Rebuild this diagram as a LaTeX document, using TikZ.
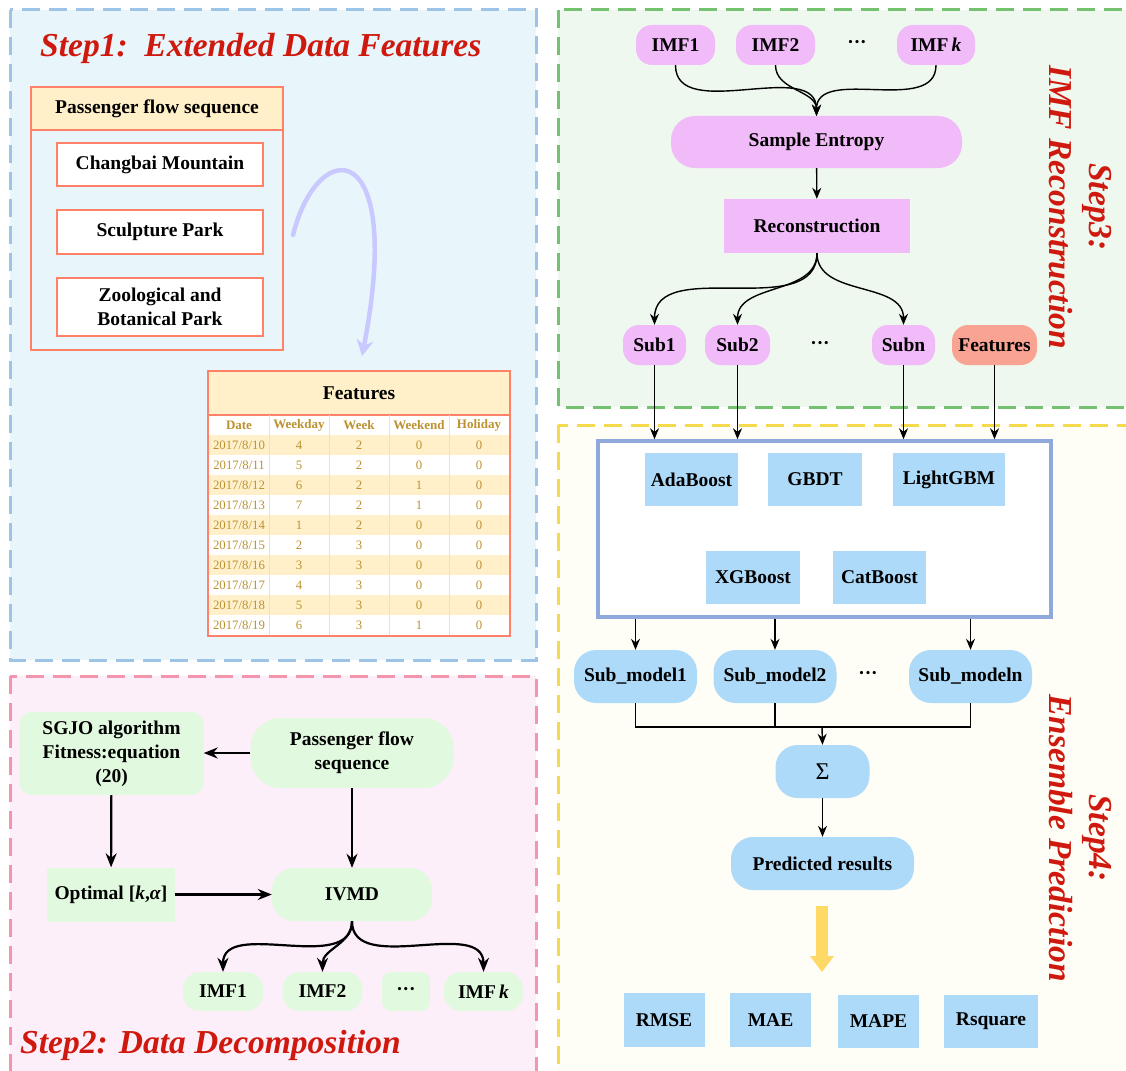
\documentclass[tikz,border=0pt]{standalone}
\usepackage{fontspec}
\setmainfont{Liberation Serif}
\usetikzlibrary{arrows.meta,calc}

\definecolor{stepred}{HTML}{D0190E}
\definecolor{skyline}{HTML}{9DC3E6}
\definecolor{skybg}{HTML}{E8F6FC}
\definecolor{roseline}{HTML}{F495AE}
\definecolor{rosebg}{HTML}{FCEFFA}
\definecolor{leafline}{HTML}{74C26F}
\definecolor{leafbg}{HTML}{EEF8EE}
\definecolor{sunline}{HTML}{F6DA4E}
\definecolor{sunbg}{HTML}{FEFEF6}
\definecolor{salmon}{HTML}{FF8167}
\definecolor{cream}{HTML}{FFF0C9}
\definecolor{tabgold}{HTML}{BC9230}
\definecolor{tabrule}{HTML}{E2E2E2}
\definecolor{lavender}{HTML}{C9C9FF}
\definecolor{orchid}{HTML}{F1BAF8}
\definecolor{coral}{HTML}{F9A393}
\definecolor{ice}{HTML}{AEDAF9}
\definecolor{mint}{HTML}{E1F9DF}
\definecolor{frame}{HTML}{8FA9DC}
\definecolor{honey}{HTML}{FFD966}

\begin{document}
\begin{tikzpicture}[
  x=1pt, y=-1pt,
  font=\bfseries\fontsize{19.5}{24}\selectfont,
  panel/.style={line width=3pt, dash pattern=on 18pt off 9pt},
  steptitle/.style={text=stepred, inner sep=0pt, align=center,
                    font=\bfseries\itshape\fontsize{33.5}{40}\selectfont},
  sitebox/.style={draw=salmon, line width=1.5pt, fill=white, align=center,
                  minimum width=206pt, inner sep=2pt},
  tabcell/.style={text=tabgold, inner sep=0pt, font=\fontsize{12.8}{14}\selectfont},
  colhead/.style={text=tabgold, inner sep=0pt, font=\bfseries\fontsize{13}{14}\selectfont},
  orchidpill/.style={fill=orchid, rounded corners=16pt, minimum height=40pt, inner sep=2pt},
  icebox/.style={fill=ice, minimum height=53pt, inner sep=2pt},
  icepill/.style={fill=ice, rounded corners=22pt, minimum height=52pt, inner sep=2pt},
  mintbox/.style={fill=mint, inner sep=2pt, align=center},
  arrow/.style={-{Stealth[length=11pt,width=9pt]}, line width=1.4pt},
  boldarrow/.style={-{Stealth[length=14pt,width=11pt]}, line width=2.2pt}
]
\clip (0,0) rectangle (1126,1070);
\fill[white] (0,0) rectangle (1126,1070);

% Panels
\draw[panel, draw=skyline, fill=skybg] (10,10) rectangle (536,660);
\draw[panel, draw=roseline, fill=rosebg] (10,676) rectangle (536,1085);
\draw[panel, draw=leafline, fill=leafbg] (558,10) rectangle (1145,407);
\draw[panel, draw=sunline, fill=sunbg] (558,425) rectangle (1145,1085);

% Step 1
\node[steptitle, anchor=west] (t1) at (40,48) {Step1:\ \ Extended Data Features};
\node[draw=salmon, line width=1.5pt, minimum width=252pt, minimum height=263pt] (seqbox) at (157,218.5) {};
\node[draw=salmon, line width=1.5pt, fill=cream, minimum width=252pt, minimum height=43pt] (seqhead) at (157,108.5) {Passenger flow sequence};
\node[sitebox, minimum height=43pt] (cbm) at (160,164.5) {Changbai Mountain};
\node[sitebox, minimum height=44pt] (scp) at (160,232) {Sculpture Park};
\node[sitebox, minimum height=58pt] (zbp) at (160,307) {Zoological and\\ Botanical Park};

\coordinate (curlstart) at (293,235);
\coordinate (curlend) at (362,356);
\draw[lavender, line width=4.5pt, line cap=round, -{Stealth[length=16pt,width=17pt]}]
  (curlstart) .. controls (318,135) and (405,135) .. (curlend);

% Features table
\fill[white] (208,371) rectangle (510,636);
\foreach \r in {0,2,...,8}
  \fill[cream] (208,435+20*\r) rectangle (510,455+20*\r);
\node[fill=cream, minimum width=302pt, minimum height=44pt, inner sep=0pt] (feathead) at (359,393) {Features};
\draw[salmon, line width=1.5pt] (feathead.south west) -- (feathead.south east);
\foreach \x in {269,329,389,449}
  \draw[tabrule, line width=0.8pt] (\x,415) -- (\x,636);
\foreach \name [count=\c] in {Date,Weekday,Week,Weekend,Holiday}
  \node[colhead] (col\c) at (179+60*\c,425) {\name};
\foreach \tdate/\tday/\tweek/\tend/\thol [count=\i] in
  {10/4/2/0/0, 11/5/2/0/0, 12/6/2/1/0, 13/7/2/1/0, 14/1/2/0/0,
   15/2/3/0/0, 16/3/3/0/0, 17/4/3/0/0, 18/5/3/0/0, 19/6/3/1/0} {
  \node[tabcell] (date\i) at (239,425+20*\i) {2017/8/\tdate};
  \node[tabcell] (wday\i) at (299,425+20*\i) {\tday};
  \node[tabcell] (week\i) at (359,425+20*\i) {\tweek};
  \node[tabcell] (wend\i) at (419,425+20*\i) {\tend};
  \node[tabcell] (hday\i) at (479,425+20*\i) {\thol};
}
\node[draw=salmon, line width=2pt, minimum width=302pt, minimum height=265pt, inner sep=0pt] (feattab) at (359,503.5) {};

% Step 2
\node[steptitle, anchor=west] (t2) at (20,1045) {Step2: Data Decomposition};
\node[mintbox, rounded corners=12pt, minimum width=184pt, minimum height=83pt] (sgjo) at (111.5,753.5) {SGJO algorithm\\ Fitness:equation\\ (20)};
\node[mintbox, rounded corners=30pt, minimum width=203pt, minimum height=70pt] (seq2) at (352,753) {Passenger flow\\ sequence};
\node[mintbox, minimum width=128pt, minimum height=54pt] (optk) at (111,894.5) {Optimal [\textit{k},\textit{α}]};
\node[mintbox, rounded corners=22pt, minimum width=160pt, minimum height=53pt] (ivmd) at (352,894.5) {IVMD};
\node[mintbox, rounded corners=17pt, minimum width=80pt, minimum height=39pt] (imfa) at (223,991.5) {IMF1};
\node[mintbox, rounded corners=17pt, minimum width=80pt, minimum height=39pt] (imfb) at (322.5,991.5) {IMF2};
\node[mintbox, rounded corners=9pt, minimum width=48pt, minimum height=39pt] (dotsb) at (406,991.5) {···};
\node[mintbox, rounded corners=17pt, minimum width=79pt, minimum height=39pt] (imfk) at (483.5,991.5) {IMF\,\textit{k}};

\draw[boldarrow] (seq2.west) -- (seq2.west -| sgjo.east);
\draw[boldarrow] (sgjo) -- (optk);
\draw[boldarrow] (seq2) -- (ivmd);
\draw[boldarrow] (optk) -- (ivmd);
\foreach \dst in {imfa,imfb,imfk}
  \draw[boldarrow] (ivmd.south) to[out=-90,in=90] (\dst.north);

% Step 3
\node[steptitle, rotate=-90] (t3) at (1080,207) {Step3:\\ IMF Reconstruction};
\node[orchidpill, minimum width=79pt] (imfc1) at (675.5,45) {IMF1};
\node[orchidpill, minimum width=79pt] (imfc2) at (775.5,45) {IMF2};
\node (dotsc) at (857,44) {···};
\node[orchidpill, minimum width=78pt] (imfck) at (936,45) {IMF\,\textit{k}};
\node[orchidpill, rounded corners=24pt, minimum width=291pt, minimum height=52pt] (sampen) at (816.5,142) {Sample Entropy};
\node[fill=orchid, minimum width=186pt, minimum height=54pt] (recon) at (817,226) {Reconstruction};
\node[orchidpill, minimum width=63pt] (sub1) at (654.5,345) {Sub1};
\node[orchidpill, minimum width=65pt] (sub2) at (737.5,345) {Sub2};
\node (dotss) at (820,345) {···};
\node[orchidpill, minimum width=63pt] (subn) at (903.5,345) {Subn};
\node[orchidpill, fill=coral, minimum width=85pt] (feat) at (994.5,345) {Features};

\foreach \src in {imfc1,imfc2,imfck}
  \draw[arrow] (\src.south) to[out=-90,in=90] (sampen.north);
\draw[arrow] (sampen) -- (recon);
\foreach \dst in {sub1,sub2,subn}
  \draw[arrow] (recon.south) to[out=-90,in=90] (\dst.north);

% Step 4
\node[steptitle, rotate=-90] (t4) at (1080,838) {Step4:\\ Ensemble Prediction};
\node[draw=frame, line width=3.5pt, fill=white, minimum width=453pt, minimum height=176pt] (ensbox) at (824.5,529) {};
\node[icebox, minimum width=93pt] (ada) at (691.5,479.5) {AdaBoost};
\node[icebox, minimum width=94pt] (gbdt) at (815,479.5) {GBDT};
\node[icebox, minimum width=112pt] (lgbm) at (949,479.5) {LightGBM};
\node[icebox, minimum width=94pt] (xgb) at (753,577.5) {XGBoost};
\node[icebox, minimum width=93pt] (cat) at (879.5,577.5) {CatBoost};

\foreach \src in {sub1,sub2,subn,feat}
  \draw[arrow] (\src.south) -- (\src.south |- ensbox.north);

\node[icepill, minimum width=123pt, minimum height=53pt] (sm1) at (635.5,676.5) {Sub\_model1};
\node[icepill, minimum width=123pt, minimum height=53pt] (sm2) at (775,676.5) {Sub\_model2};
\node (dotsm) at (868,675) {···};
\node[icepill, minimum width=123pt, minimum height=53pt] (smn) at (970.5,676.5) {Sub\_modeln};
\foreach \dst in {sm1,sm2,smn}
  \draw[arrow] (\dst.north |- ensbox.south) -- (\dst.north);

\coordinate (join) at (822,727);
\draw[line width=1.4pt] (sm1.south) |- (join) -| (smn.south);
\draw[line width=1.4pt] (sm2.south) -- (sm2.south |- join);
\node[icepill, minimum width=94pt, minimum height=53pt, font=\mdseries\fontsize{24}{26}\selectfont] (sigma) at (822.5,771.5) {Σ};
\draw[arrow] (join) -- (sigma.north);
\node[icepill, minimum width=183pt, minimum height=53pt] (pred) at (822.5,863.5) {Predicted results};
\draw[arrow] (sigma) -- (pred);

\coordinate (fattop) at (822,906);
\coordinate (fatbot) at (822,972);
\draw[honey, line width=12pt, -{Triangle[length=16pt,width=23pt]}] (fattop) -- (fatbot);

\node[icebox, minimum width=81pt, minimum height=54pt] (rmse) at (664,1020) {RMSE};
\node[icebox, minimum width=81pt, minimum height=54pt] (mae) at (770.5,1020) {MAE};
\node[icebox, minimum width=81pt, minimum height=53pt] (mape) at (878.5,1021) {MAPE};
\node[icebox, minimum width=94pt, minimum height=53pt] (rsq) at (991,1021) {Rsquare};

\end{tikzpicture}
\end{document}
